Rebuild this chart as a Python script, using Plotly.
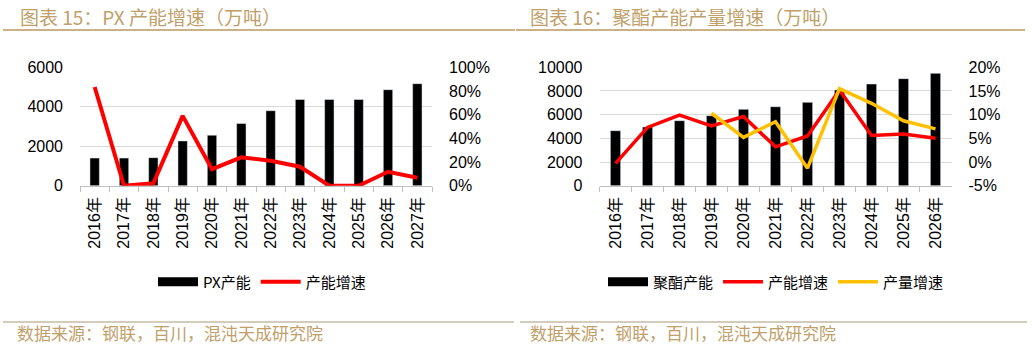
import plotly.graph_objects as go

# ---- data ----
px_years = ["2016年", "2017年", "2018年", "2019年", "2020年", "2021年",
            "2022年", "2023年", "2024年", "2025年", "2026年", "2027年"]
px_capacity = [1400, 1400, 1420, 2270, 2560, 3150, 3800, 4370, 4370, 4370, 4865, 5170]
px_growth = [0.834, 0.0, 0.02, 0.59, 0.14, 0.24, 0.21, 0.16, 0.0, 0.0, 0.118, 0.067]

pet_years = ["2016年", "2017年", "2018年", "2019年", "2020年", "2021年",
             "2022年", "2023年", "2024年", "2025年", "2026年"]
pet_capacity = [4645, 4960, 5490, 5910, 6450, 6670, 7040, 8080, 8590, 9040, 9490]
pet_cap_growth = [-0.003, 0.073, 0.099, 0.076, 0.096, 0.032, 0.055, 0.152, 0.056, 0.059, 0.050]
pet_out_growth = [None, None, None, 0.103, 0.052, 0.085, -0.013, 0.155, 0.124, 0.087, 0.070]

pet_growth_tickvals = [-0.05, 0.0, 0.05, 0.10, 0.15, 0.20]
pet_growth_ticktext = ["-5%", "0%", "5%", "10%", "15%", "20%"]

title_left = "图表 15：PX 产能增速（万吨）"
title_right = "图表 16：聚酯产能产量增速（万吨）"
source_text = "数据来源：钢联，百川，混沌天成研究院"

W, H = 1032, 345
GOLD = "#BF9F6A"
LINE_GOLD = "#B8975E"
TICK_FONT = dict(family="Liberation Sans, Noto Sans CJK SC", size=16, color="#000000")
CJK = "Noto Sans CJK SC"

def px_x(v):
    return v / W

def px_y(v):
    return 1 - v / H

fig = go.Figure()

# left chart
fig.add_trace(go.Bar(x=px_years, y=px_capacity, name="PX产能", marker_color="#000000",
                     xaxis="x", yaxis="y", showlegend=False))
fig.add_trace(go.Scatter(x=[None], y=[None], name="PX产能", mode="lines",
                         line=dict(color="#000000", width=9), xaxis="x", yaxis="y",
                         legend="legend"))
fig.add_trace(go.Scatter(x=px_years, y=px_growth, name="产能增速", mode="lines",
                         line=dict(color="#FF0000", width=4), xaxis="x", yaxis="y2",
                         legend="legend"))
# right chart
fig.add_trace(go.Bar(x=pet_years, y=pet_capacity, name="聚酯产能", marker_color="#000000",
                     xaxis="x2", yaxis="y3", showlegend=False))
fig.add_trace(go.Scatter(x=[None], y=[None], name="聚酯产能", mode="lines",
                         line=dict(color="#000000", width=9), xaxis="x2", yaxis="y3",
                         legend="legend2"))
fig.add_trace(go.Scatter(x=pet_years, y=pet_cap_growth, name="产能增速", mode="lines",
                         line=dict(color="#FF0000", width=3.5), xaxis="x2", yaxis="y4",
                         legend="legend2"))
fig.add_trace(go.Scatter(x=pet_years, y=pet_out_growth, name="产量增速", mode="lines",
                         line=dict(color="#FFC000", width=3.5), xaxis="x2", yaxis="y4",
                         connectgaps=False, legend="legend2"))

ydom = [px_y(185.7), px_y(67.3)]

xcommon = dict(type="category", tickangle=-90, tickfont=TICK_FONT, showline=True,
               linecolor="#BFBFBF", linewidth=1, ticks="outside", tickson="boundaries",
               ticklen=5, tickcolor="#BFBFBF", showgrid=False, zeroline=False,
               ticklabelstandoff=4, fixedrange=True, automargin=False)
yleft = dict(tickfont=TICK_FONT, showgrid=True, gridcolor="#D9D9D9", gridwidth=1,
             zeroline=False, showline=False, ticks="", ticklabelstandoff=16,
             fixedrange=True, automargin=False, tickformat="d")
yright = dict(tickfont=TICK_FONT, showgrid=False, zeroline=False, showline=False,
              ticks="", ticklabelstandoff=16, fixedrange=True, automargin=False)

fig.update_layout(
    width=W, height=H, autosize=False,
    margin=dict(l=0, r=0, t=0, b=0, pad=0, autoexpand=False),
    paper_bgcolor="white", plot_bgcolor="white",
    bargap=0.68,
    xaxis=dict(domain=[px_x(80), px_x(432)], anchor="y", **xcommon),
    yaxis=dict(domain=ydom, anchor="x", range=[0, 6000], dtick=2000, **yleft),
    yaxis2=dict(overlaying="y", side="right", anchor="x", range=[0, 1], dtick=0.2,
                tickformat=".0%", **yright),
    xaxis2=dict(domain=[px_x(599.5), px_x(951.5)], anchor="y3", **xcommon),
    yaxis3=dict(domain=ydom, anchor="x2", range=[0, 10000], dtick=2000, **yleft),
    yaxis4=dict(overlaying="y3", side="right", anchor="x2", range=[-0.05, 0.2],
                tickmode="array", tickvals=pet_growth_tickvals, ticktext=pet_growth_ticktext,
                **yright),
    legend=dict(orientation="h", x=px_x(262), y=px_y(282), xanchor="center", yanchor="middle",
                font=dict(family=CJK, size=15, color="#000000"), bgcolor="rgba(0,0,0,0)",
                itemwidth=40, traceorder="normal"),
    legend2=dict(orientation="h", x=px_x(776), y=px_y(282), xanchor="center", yanchor="middle",
                 font=dict(family=CJK, size=15, color="#000000"), bgcolor="rgba(0,0,0,0)",
                 itemwidth=40, traceorder="normal"),
    showlegend=True,
)

# titles and source text
for txt, x in [(title_left, 18), (title_right, 528)]:
    fig.add_annotation(text=txt, xref="paper", yref="paper", x=px_x(x), y=px_y(16),
                       xanchor="left", yanchor="middle", showarrow=False,
                       font=dict(family=CJK, size=19, color=GOLD))
for x in [15, 528]:
    fig.add_annotation(text=source_text, xref="paper", yref="paper", x=px_x(x), y=px_y(332),
                       xanchor="left", yanchor="middle", showarrow=False,
                       font=dict(family=CJK, size=17, color=GOLD))

# rule lines
for (x0, x1) in [(3, 515), (516, 1025)]:
    fig.add_shape(type="line", xref="paper", yref="paper", x0=px_x(x0), x1=px_x(x1),
                  y0=px_y(30), y1=px_y(30), line=dict(color=LINE_GOLD, width=1.5))
for (x0, x1) in [(3, 514), (520, 1027)]:
    fig.add_shape(type="line", xref="paper", yref="paper", x0=px_x(x0), x1=px_x(x1),
                  y0=px_y(322), y1=px_y(322), line=dict(color="#A89878", width=1.2))

fig.write_html("out.html")
